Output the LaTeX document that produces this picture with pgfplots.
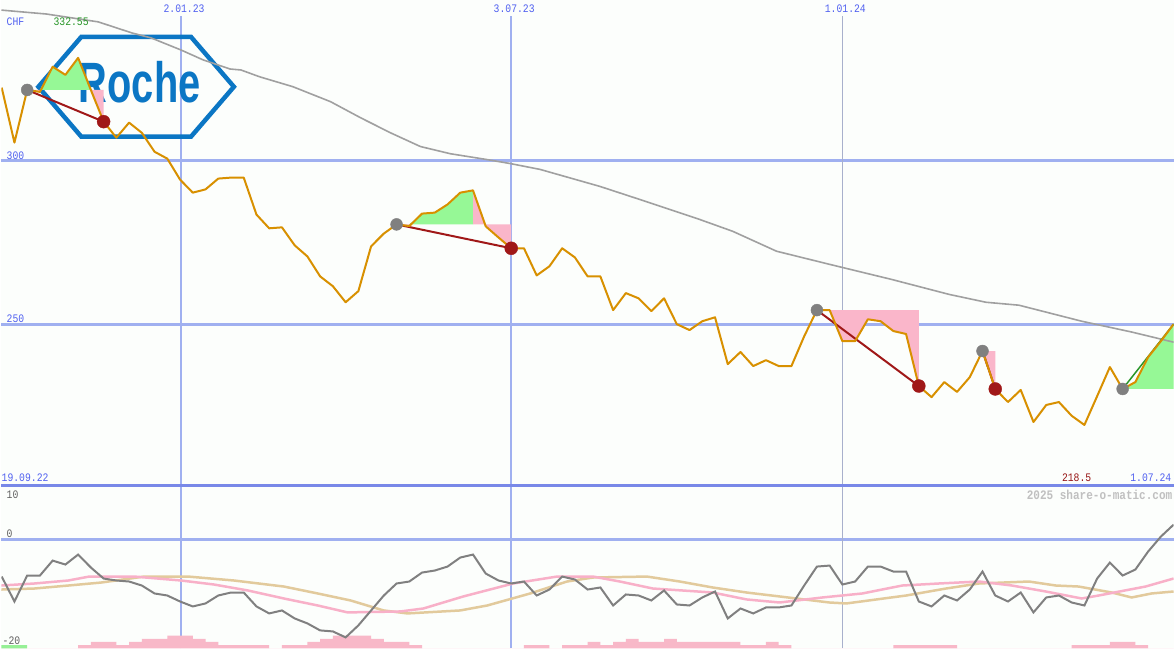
\documentclass[border=0pt]{standalone}
\usepackage{fontspec}
\setmainfont{Liberation Sans}
\newfontfamily\pix[FakeStretch=0.85]{Liberation Mono}
\newfontfamily\rochefont[FakeStretch=0.70]{Liberation Sans}
\usepackage{pgfplots}
\usepackage{pgfplotstable}
\pgfplotsset{compat=1.18}

\definecolor{bg}{RGB}{252,254,252}
\definecolor{gridblue}{RGB}{160,176,240}
\definecolor{sepblue}{RGB}{120,136,232}
\definecolor{vgray}{RGB}{168,176,204}
\definecolor{lblblue}{RGB}{80,96,240}
\definecolor{lblgreen}{RGB}{40,150,40}
\definecolor{lblred}{RGB}{150,20,20}
\definecolor{price}{RGB}{216,144,0}
\definecolor{ma}{RGB}{160,160,160}
\definecolor{trade}{RGB}{160,24,24}
\definecolor{entry}{RGB}{128,128,128}
\definecolor{gfill}{RGB}{150,248,150}
\definecolor{pfill}{RGB}{250,182,202}
\definecolor{osc}{RGB}{128,128,128}
\definecolor{pinkma}{RGB}{248,176,200}
\definecolor{tanma}{RGB}{226,202,156}
\definecolor{roche}{RGB}{11,118,196}
\definecolor{histpink}{RGB}{248,184,200}
\definecolor{histgreen}{RGB}{150,240,150}
\definecolor{wm}{RGB}{192,192,192}
\definecolor{dgray}{RGB}{96,96,96}

% weekly closes (week 1 = 19.09.22)
\pgfplotstableread{
w v
1 322.3
2 305.5
3 321.6
4 321.0
5 328.7
6 326.2
7 331.4
8 321.6
9 311.9
10 307.0
11 311.6
12 308.5
13 302.7
14 300.6
15 294.2
16 290.2
17 291.2
18 294.5
19 294.8
20 294.8
21 283.5
22 279.3
23 279.6
24 274.1
25 270.7
26 264.6
27 261.6
28 256.7
29 260.1
30 273.8
31 277.7
32 280.5
33 280.0
34 283.8
35 284.1
36 286.6
37 290.2
38 290.9
39 279.9
40 276.5
41 273.2
42 273.2
43 264.9
44 267.7
45 273.2
46 270.4
47 264.6
48 264.6
49 254.3
50 259.5
51 257.9
52 254.0
53 257.9
54 250.0
55 248.2
56 250.9
57 252.1
58 237.8
59 241.5
60 237.2
61 239.0
62 237.2
63 237.2
64 246.3
65 254.3
66 254.3
67 244.8
68 244.8
69 251.5
70 250.9
71 247.9
72 247.0
73 231.1
74 227.7
75 232.3
76 229.3
77 233.8
78 241.8
79 230.2
80 226.2
81 229.9
82 220.1
83 225.3
84 226.2
85 222.0
86 219.2
87 228.0
88 236.9
89 230.2
90 232.3
91 239.9
92 244.8
93 250.0
}\price

\pgfplotstableread{
w v
0.98 346.0
4.51 344.8
8.58 342.4
11.24 339.0
12.73 337.5
15.08 333.8
16.80 330.8
18.92 328.0
19.78 327.7
21.26 325.6
23.85 322.6
26.82 318.0
29.17 313.1
31.52 308.5
33.87 304.3
36.22 302.1
39.12 300.3
40.92 299.1
43.27 297.3
47.97 292.1
50.87 288.4
55.80 282.0
58.38 278.4
61.83 272.3
65.98 268.3
70.84 263.7
75.38 259.1
78.27 256.7
80.86 255.8
85.79 250.9
89.71 247.6
93.00 244.5
}\mavg

\pgfplotstableread{
w v
1 -6.92
2 -11.59
3 -6.73
4 -6.73
5 -3.93
6 -4.67
7 -2.80
8 -5.23
9 -7.29
10 -7.66
11 -7.85
12 -8.60
13 -10.09
14 -10.47
15 -11.59
16 -12.52
17 -11.96
18 -10.47
19 -9.91
20 -9.91
21 -12.52
22 -13.83
23 -13.27
24 -14.77
25 -15.70
26 -17.01
27 -17.20
28 -18.32
29 -16.07
30 -13.27
31 -10.47
32 -8.22
33 -7.85
34 -6.17
35 -5.79
36 -5.05
37 -3.36
38 -2.80
39 -6.36
40 -7.66
41 -8.22
42 -7.85
43 -10.47
44 -9.35
45 -6.92
46 -7.48
47 -9.35
48 -8.97
49 -12.34
50 -10.28
51 -10.47
52 -11.40
53 -9.53
54 -12.15
55 -12.34
56 -10.84
57 -9.72
58 -14.77
59 -12.90
60 -13.83
61 -12.71
62 -12.71
63 -12.34
64 -8.60
65 -5.05
66 -4.86
67 -8.41
68 -7.85
69 -5.05
70 -5.05
71 -5.98
72 -5.98
73 -11.59
74 -12.52
75 -10.47
76 -11.40
77 -9.35
78 -5.98
79 -10.47
80 -11.59
81 -9.91
82 -13.64
83 -10.84
84 -10.47
85 -11.78
86 -12.34
87 -7.29
88 -4.30
89 -6.73
90 -5.61
91 -2.24
92 0.56
93 2.80
}\osc

\pgfplotstableread{
w v
0.98 -8.60
3.57 -8.22
6.23 -7.66
7.87 -6.92
11.40 -6.92
15.08 -7.66
17.66 -8.41
20.33 -9.53
23.15 -11.03
25.81 -12.34
28.16 -13.64
32.31 -13.46
34.11 -12.90
37.24 -10.65
41.15 -8.22
44.60 -6.92
47.42 -6.92
49.53 -7.85
52.12 -9.16
56.82 -9.91
59.48 -11.21
62.07 -11.78
65.43 -10.84
68.57 -10.09
71.70 -8.60
74.59 -8.22
77.73 -7.85
80.31 -8.60
82.97 -9.72
85.79 -11.03
87.12 -10.47
90.80 -8.79
93.00 -7.29
}\pinkma

\pgfplotstableread{
w v
0.98 -9.35
3.57 -9.16
6.23 -8.60
8.81 -8.04
12.18 -6.92
15.63 -6.92
19.23 -7.66
23.15 -8.79
25.81 -10.09
28.39 -11.40
30.98 -13.27
32.85 -13.83
37.00 -13.27
39.12 -12.34
42.49 -10.09
45.38 -7.85
47.42 -7.10
51.65 -6.92
54.23 -7.85
56.82 -8.97
59.48 -9.91
62.07 -10.65
65.98 -11.78
67.31 -11.96
72.01 -10.47
75.14 -9.16
77.73 -8.22
81.64 -7.85
83.76 -8.60
85.55 -8.79
88.14 -9.91
89.71 -10.84
91.27 -10.09
93.00 -9.72
}\tanma

\pgfplotstableread{
w v
0.98 0
7 1
8 2
10 1
11 2
12 3
14 4
16 3
17 2
18 1
22 0
23 1
25 2
26 3
27 4
30 3
31 2
33 1
34 0
42 1
44 0
45 1
47 2
48 1
49 2
50 3
51 2
53 3
54 2
59 1
61 2
62 1
63 0
71 1
76 0
85 1
88 2
90 1
91 0
93 0
}\hist

\begin{document}
\begin{tikzpicture}[x=1pt,y=1pt]
\fill[bg] (0,0) rectangle (1175,650);
% grid
\draw[gridblue, line width=3] (0,489) -- (1175,489);
\draw[gridblue, line width=3] (0,325) -- (1175,325);
\draw[gridblue, line width=3] (0,109) -- (1175,109);
\draw[gridblue, line width=1.5] (180,0) -- (180,634);
\draw[gridblue, line width=2.5] (510.7,0) -- (510.7,634);
\draw[vgray, line width=1.2] (843.5,0) -- (843.5,634);
\draw[sepblue, line width=3] (0,163) -- (1175,163);
% logo
\draw[roche, line width=4.5, line join=miter] (37,563) -- (80,613) -- (190,613) -- (233,563) -- (190,513) -- (80,513) -- cycle;
\node[roche, anchor=base, inner sep=0] at (138.5,547) {\rochefont\bfseries\fontsize{57}{57}\selectfont Roche};

\begin{axis}[at={(0pt,163pt)}, anchor=south west, scale only axis,
  width=1175pt, height=487pt, xmin=0.983, xmax=93, ymin=200.61, ymax=349.09,
  hide axis]
  % trade fills
  \addplot[draw=none, fill=pfill] coordinates {(3,321.6) (4,321.0) (4,321.6)};
  \addplot[draw=none, fill=gfill] coordinates {(4,321.6) (5,328.7) (6,326.2) (7,331.4) (8,321.6)};
  \addplot[draw=none, fill=pfill] coordinates {(8,321.6) (9,311.9) (9,321.6)};
  \addplot[draw=none, fill=pfill] coordinates {(32,280.5) (33,280.0) (33,280.5)};
  \addplot[draw=none, fill=gfill] coordinates {(33,280.5) (34,283.8) (35,284.1) (36,286.6) (37,290.2) (38,290.9) (38,280.5)};
  \addplot[draw=none, fill=pfill] coordinates {(38,280.5) (38,290.9) (39,279.9) (40,276.5) (41,273.2) (41,280.5)};
  \addplot[draw=none, fill=pfill] coordinates {(65,254.3) (66,254.3) (67,244.8) (68,244.8) (69,251.5) (70,250.9) (71,247.9) (72,247.0) (73,231.1) (73,254.3)};
  \addplot[draw=none, fill=pfill] coordinates {(78,241.8) (79,230.2) (79,241.8)};
  \addplot[draw=none, fill=gfill] coordinates {(89,230.2) (90,232.3) (91,239.9) (92,244.8) (93,250.0) (93,230.2)};
  % moving average
  \addplot[ma, line width=1.6] table[x=w, y=v] {\mavg};
  % markers
  \addplot[only marks, mark=*, mark size=6, entry, mark options={draw=entry, fill=entry}] coordinates {(3,321.6) (32,280.5) (65,254.3) (78,241.8) (89,230.2)};
  \addplot[only marks, mark=*, mark size=6.5, trade, mark options={draw=trade, fill=trade}] coordinates {(9,311.9) (41,273.2) (73,231.1) (79,230.2)};
  % trade lines
  \addplot[trade, line width=2] coordinates {(3,321.6) (9,311.9)};
  \addplot[trade, line width=2] coordinates {(32,280.5) (41,273.2)};
  \addplot[trade, line width=2] coordinates {(65,254.3) (73,231.1)};
  \addplot[trade, line width=2] coordinates {(78,241.8) (79,230.2)};
  \addplot[lblgreen, line width=1.5] coordinates {(89,230.2) (93,250.0)};
  % price
  \addplot[price, line width=2, line join=round] table[x=w, y=v] {\price};
\end{axis}

\begin{axis}[at={(0pt,0pt)}, anchor=south west, scale only axis,
  width=1175pt, height=163pt, xmin=0.983, xmax=93, ymin=0, ymax=51,
  hide axis]
  \addplot[const plot mark left, draw=none, fill=histpink] table[x=w, y=v] {\hist} \closedcycle;
  \addplot[const plot mark left, draw=none, fill=histgreen] coordinates {(0.983,1) (3,0)} \closedcycle;
\end{axis}

\begin{axis}[at={(0pt,0pt)}, anchor=south west, scale only axis,
  width=1175pt, height=163pt, xmin=0.983, xmax=93, ymin=-20.37, ymax=10.09,
  hide axis]
  \addplot[tanma, line width=2.5] table[x=w, y=v] {\tanma};
  \addplot[pinkma, line width=2.5] table[x=w, y=v] {\pinkma};
  \addplot[osc, line width=2] table[x=w, y=v] {\osc};
\end{axis}

% labels
\begin{scope}[every node/.style={inner sep=0, font=\pix\fontsize{11.5}{11.5}\selectfont}]
\node[lblblue, anchor=west] at (5,628.5) {CHF};
\node[lblgreen, anchor=west] at (52,628.5) {332.55};
\node[lblblue, anchor=west] at (5,494) {300};
\node[lblblue, anchor=west] at (5,330) {250};
\node[lblblue] at (183,641) {2.01.23};
\node[lblblue] at (514,641) {3.07.23};
\node[lblblue] at (846,641) {1.01.24};
\node[lblblue, anchor=west] at (0,171) {19.09.22};
\node[lblred, anchor=west] at (1063,171) {218.5};
\node[lblblue, anchor=east] at (1173,171) {1.07.24};
\node[dgray, anchor=west] at (5,154) {10};
\node[dgray, anchor=west] at (5,115) {0};
\node[dgray, anchor=west] at (1,8) {-20};
\node[wm, anchor=east, font=\pix\bfseries\fontsize{13}{13}\selectfont] at (1174,154) {2025 share-o-matic.com};
\end{scope}
\end{tikzpicture}
\end{document}
